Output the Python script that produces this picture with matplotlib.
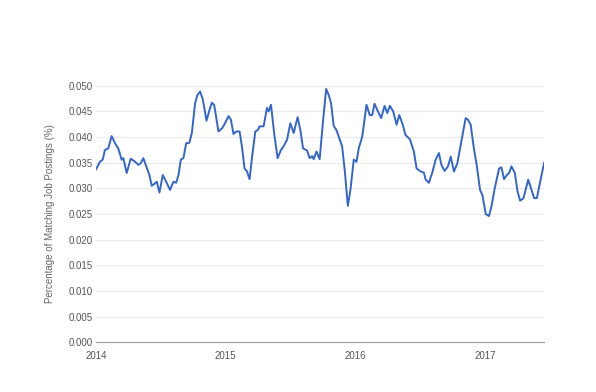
import matplotlib
matplotlib.use('Agg')
import matplotlib.pyplot as plt

plt.rcParams['font.family'] = ['Liberation Sans', 'DejaVu Sans']

# Decimal year of each reading
years = [2014.000, 2014.031, 2014.052, 2014.069, 2014.095, 2014.121, 2014.147, 2014.172,
         2014.198, 2014.211, 2014.237, 2014.268, 2014.301, 2014.327, 2014.345, 2014.365,
         2014.392, 2014.412, 2014.430, 2014.456, 2014.469, 2014.489, 2014.515, 2014.541,
         2014.571, 2014.597, 2014.618, 2014.636, 2014.654, 2014.674, 2014.695, 2014.720,
         2014.739, 2014.764, 2014.782, 2014.803, 2014.824, 2014.852, 2014.875, 2014.893,
         2014.911, 2014.944, 2014.971, 2014.988, 2015.022, 2015.040, 2015.060, 2015.081,
         2015.107, 2015.125, 2015.145, 2015.164, 2015.184, 2015.202, 2015.228, 2015.249,
         2015.261, 2015.292, 2015.318, 2015.331, 2015.349, 2015.375, 2015.400, 2015.426,
         2015.446, 2015.473, 2015.498, 2015.524, 2015.554, 2015.575, 2015.596, 2015.627,
         2015.647, 2015.666, 2015.678, 2015.699, 2015.724, 2015.751, 2015.774, 2015.794,
         2015.812, 2015.832, 2015.853, 2015.871, 2015.897, 2015.917, 2015.941, 2015.961,
         2015.987, 2016.008, 2016.025, 2016.052, 2016.085, 2016.110, 2016.129, 2016.147,
         2016.168, 2016.198, 2016.224, 2016.245, 2016.265, 2016.291, 2016.317, 2016.337,
         2016.361, 2016.386, 2016.419, 2016.450, 2016.471, 2016.502, 2016.527, 2016.541,
         2016.566, 2016.592, 2016.618, 2016.643, 2016.662, 2016.687, 2016.713, 2016.734,
         2016.759, 2016.785, 2016.811, 2016.849, 2016.867, 2016.888, 2016.914, 2016.934,
         2016.960, 2016.978, 2017.004, 2017.029, 2017.048, 2017.073, 2017.107, 2017.125,
         2017.145, 2017.166, 2017.184, 2017.202, 2017.228, 2017.249, 2017.269, 2017.295,
         2017.331, 2017.357, 2017.377, 2017.398, 2017.429, 2017.454]

# Percentage of matching job postings
share = [0.0337, 0.0352, 0.0356, 0.0375, 0.0378, 0.0402, 0.0388, 0.0378,
         0.0356, 0.0359, 0.0330, 0.0358, 0.0352, 0.0346, 0.0349, 0.0359,
         0.0340, 0.0326, 0.0305, 0.0310, 0.0313, 0.0292, 0.0326, 0.0313,
         0.0297, 0.0313, 0.0311, 0.0326, 0.0356, 0.0359, 0.0388, 0.0389,
         0.0408, 0.0466, 0.0482, 0.0489, 0.0473, 0.0432, 0.0453, 0.0467,
         0.0463, 0.0411, 0.0417, 0.0424, 0.0441, 0.0434, 0.0406, 0.0411,
         0.0411, 0.0382, 0.0339, 0.0333, 0.0318, 0.0359, 0.0411, 0.0414,
         0.0421, 0.0421, 0.0457, 0.0450, 0.0463, 0.0404, 0.0359, 0.0375,
         0.0382, 0.0395, 0.0427, 0.0408, 0.0439, 0.0414, 0.0378, 0.0374,
         0.0359, 0.0363, 0.0357, 0.0372, 0.0357, 0.0434, 0.0494, 0.0482,
         0.0466, 0.0422, 0.0414, 0.0401, 0.0382, 0.0336, 0.0266, 0.0297,
         0.0356, 0.0352, 0.0378, 0.0401, 0.0463, 0.0443, 0.0443, 0.0465,
         0.0453, 0.0437, 0.0461, 0.0447, 0.0461, 0.0450, 0.0424, 0.0443,
         0.0427, 0.0404, 0.0396, 0.0372, 0.0339, 0.0333, 0.0331, 0.0317,
         0.0311, 0.0331, 0.0356, 0.0369, 0.0346, 0.0334, 0.0343, 0.0362,
         0.0333, 0.0349, 0.0385, 0.0437, 0.0434, 0.0424, 0.0375, 0.0346,
         0.0297, 0.0287, 0.0250, 0.0246, 0.0265, 0.0300, 0.0339, 0.0341,
         0.0318, 0.0326, 0.0330, 0.0343, 0.0330, 0.0294, 0.0276, 0.0281,
         0.0317, 0.0297, 0.0281, 0.0281, 0.0320, 0.0350]

year_ticks = [2014, 2015, 2016, 2017]
y_ticks = [0.000, 0.005, 0.010, 0.015, 0.020, 0.025, 0.030, 0.035, 0.040, 0.045, 0.050]

fig = plt.figure(figsize=(5.96, 3.92), dpi=100)
ax = fig.add_axes([0.161, 0.127, 0.752, 0.654])

ax.plot(years, share, color='#3366cc', linewidth=1.4, solid_joinstyle='round')

ax.set_xlim(2014, years[-1])
ax.set_ylim(0, 0.050)
ax.set_yticks(y_ticks)
ax.set_yticklabels(['%.3f' % v for v in y_ticks])
ax.set_xticks(year_ticks)
ax.set_xticklabels([str(y) for y in year_ticks])

# Light horizontal gridlines, no frame
ax.grid(axis='y', color='#ebebeb', linewidth=0.8)
ax.set_axisbelow(True)
for s in ['top', 'right', 'left']:
    ax.spines[s].set_visible(False)
ax.spines['bottom'].set_color('#999999')
ax.spines['bottom'].set_linewidth(0.8)
ax.tick_params(length=0, labelsize=7, labelcolor='#555555')
ax.tick_params(axis='y', pad=2)
ax.tick_params(axis='x', pad=6)

ax.set_ylabel('Percentage of Matching Job Postings (%)', fontsize=7, color='#666666', labelpad=10)

fig.savefig('out.png', dpi=100)
